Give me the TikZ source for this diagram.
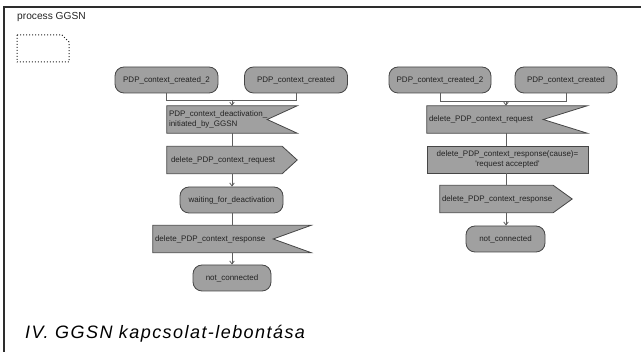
\documentclass[tikz,border=0pt]{standalone}
\usepackage{fontspec}
\setmainfont{Liberation Sans}
\usetikzlibrary{arrows.meta}
\pgfdeclarelayer{bg}
\pgfsetlayers{bg,main}
\definecolor{boxfill}{RGB}{160,160,160}
\definecolor{boxline}{RGB}{70,70,70}
\definecolor{wirecol}{RGB}{95,95,95}
\definecolor{ink}{RGB}{35,35,35}
\definecolor{framecol}{RGB}{45,45,45}
\begin{document}
\begin{tikzpicture}[x=1pt,y=-1pt,
  boxfont/.style={font=\fontsize{8}{9.5}\selectfont, text=ink},
  state/.style={boxfont, draw=boxline, fill=boxfill, line width=0.8pt,
    rounded corners=9pt, minimum height=26pt, inner sep=0pt},
  sigbox/.style={boxfont, minimum height=27pt, inner ysep=0pt, align=left},
  taskbox/.style={boxfont, draw=boxline, fill=boxfill, line width=0.8pt,
    minimum height=27pt, inner sep=0pt, align=center},
  sigshape/.style={draw=boxline, fill=boxfill, line width=0.8pt, line join=miter},
  wire/.style={draw=wirecol, line width=0.8pt},
  arr/.style={wire, -{Straight Barb[length=3pt,width=4.5pt]}}
]
\useasboundingbox (0,0) rectangle (641,352);

% page frame
\draw[framecol, line width=1.4pt] (4,352) -- (4,7) -- (641,7);

% process header and page symbol
\node[anchor=base west, font=\fontsize{10.2}{12}\selectfont, text=ink, inner sep=0pt]
  (title) at (17,20) {process GGSN};
\draw[ink, dotted, line width=1pt] (17,35) -- (62,35) -- (69,42) -- (69,62) -- (17,62) -- cycle;

% ---------- left transition ----------
\node[state, minimum width=103pt] (lc2) at (166.5,80) {PDP\_context\_created\_2};
\node[state, minimum width=103pt] (lc1) at (296,80) {PDP\_context\_created};
\coordinate (lj) at (232,100);

\node[sigbox, inner xsep=2pt, text width=126pt] (ldeact) at (232,119.5)
  {PDP\_context\_deactivation\_\\initiated\_by\_GGSN};
\node[sigbox, inner xsep=4pt, text width=122pt] (lreq) at (232,160)
  {delete\_PDP\_context\_request};
\node[state, minimum width=103pt] (lwait) at (231.5,200) {waiting\_for\_deactivation};
\node[sigbox, inner xsep=2pt, text width=154pt] (lresp) at (232,239)
  {delete\_PDP\_context\_response};
\node[state, minimum width=78pt] (lnc) at (232,278) {not\_connected};

% ---------- right transition ----------
\node[state, minimum width=102pt] (rc2) at (440,80) {PDP\_context\_created\_2};
\node[state, minimum width=102pt] (rc1) at (566,80) {PDP\_context\_created};
\coordinate (rj) at (506,101);

\node[sigbox, inner xsep=2pt, text width=156pt] (rreq) at (507,119.5)
  {delete\_PDP\_context\_request};
\node[taskbox, minimum width=161pt] (rtask) at (507.5,159.5)
  {delete\_PDP\_context\_response(cause)=\\\textquotesingle request accepted\textquotesingle};
\node[sigbox, inner xsep=2pt, text width=128pt] (rout) at (506,199)
  {delete\_PDP\_context\_response};
\node[state, minimum width=79pt] (rnc) at (505.5,239) {not\_connected};

% signal outlines behind their labels
\begin{pgfonlayer}{bg}
  % input signals (notch on the right)
  \draw[sigshape] (ldeact.north west) -- (ldeact.north east)
    -- ([xshift=-30pt]ldeact.east) -- (ldeact.south east) -- (ldeact.south west) -- cycle;
  \draw[sigshape] (lresp.north west) -- (lresp.north east)
    -- ([xshift=-38pt]lresp.east) -- (lresp.south east) -- (lresp.south west) -- cycle;
  \draw[sigshape] (rreq.north west) -- (rreq.north east)
    -- ([xshift=-44pt]rreq.east) -- (rreq.south east) -- (rreq.south west) -- cycle;
  % output signals (point on the right)
  \draw[sigshape] (lreq.north west) -- ([xshift=-15pt]lreq.north east)
    -- (lreq.east) -- ([xshift=-15pt]lreq.south east) -- (lreq.south west) -- cycle;
  \draw[sigshape] (rout.north west) -- ([xshift=-19pt]rout.north east)
    -- (rout.east) -- ([xshift=-19pt]rout.south east) -- (rout.south west) -- cycle;
\end{pgfonlayer}

% ---------- connectors, left ----------
\draw[wire] (lc2.south) -- (lc2.south |- lj) -- (lc1.south |- lj) -- (lc1.south);
\draw[arr] (lj) -- (lj |- ldeact.north);
\draw[wire] (ldeact.south) -- (lreq.north);
\draw[arr] (lreq.south) -- (lreq.south |- lwait.north);
\draw[wire] (lwait.south -| lresp.north) -- (lresp.north);
\draw[arr] (lresp.south) -- (lnc.north);

% ---------- connectors, right ----------
\draw[wire] (rc2.south) -- (rc2.south |- rj) -- (rc1.south |- rj) -- (rc1.south);
\draw[arr] (rj) -- (rj |- rreq.north);
\draw[wire] (rreq.south -| rj) -- (rtask.north -| rj);
\draw[wire] (rtask.south -| rj) -- (rout.north -| rj);
\draw[arr] (rout.south -| rj) -- (rnc.north -| rj);

% caption
\node[anchor=base west, inner sep=0pt, text=black,
  font=\fontsize{18}{21}\itshape\addfontfeatures{LetterSpace=8}\selectfont]
  (caption) at (25,339) {IV. GGSN kapcsolat-lebontása};
\end{tikzpicture}
\end{document}
